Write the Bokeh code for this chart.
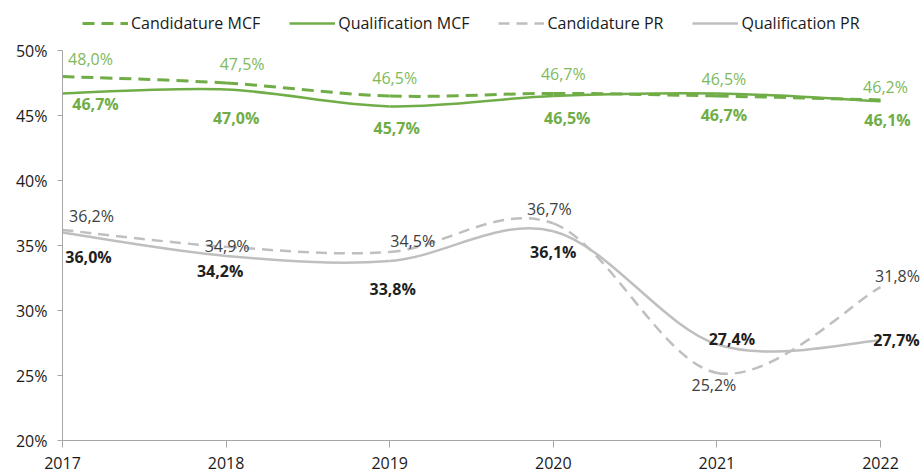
import numpy as np
from bokeh.plotting import figure
from bokeh.models import (ColumnDataSource, Legend, LegendItem, FixedTicker,
                          PrintfTickFormatter, Range1d)
from bokeh.core.properties import value
from bokeh.embed import file_html
from bokeh.resources import INLINE

# ---------------- data ----------------
years = [2017, 2018, 2019, 2020, 2021, 2022]
cand_mcf = [48.0, 47.5, 46.5, 46.7, 46.5, 46.2]
qual_mcf = [46.7, 47.0, 45.7, 46.5, 46.7, 46.1]
cand_pr = [36.2, 34.9, 34.5, 36.7, 25.2, 31.8]
qual_pr = [36.0, 34.2, 33.8, 36.1, 27.4, 27.7]
y_ticks = [20, 25, 30, 35, 40, 45, 50]
names = ["Candidature MCF", "Qualification MCF", "Candidature PR", "Qualification PR"]

# label placement (screen px offsets from each point)
dx_cand_mcf = [28, 16, 5, 10, 7, 5]
dy_cand_mcf = [-18, -19, -18, -19, -17, -13]
dx_qual_mcf = [33, 10, 7, 14, 7, 7]
dy_qual_mcf = [11, 28, 22, 22, 22, 19]
dx_cand_pr = [29, 1, 23, -4, -3, 17]
dy_cand_pr = [-14, -1, -11, -14, 12, -11]
dx_qual_pr = [26, -6, 3, 0, 15, 16]
dy_qual_pr = [24, 15, 28, 21, -5, 0]

GREEN = "#70AD47"
GREEN_LBL = "#80B95C"
GREY = "#BFBFBF"
FONT = "Open Sans"

W, H = 921, 473
LEFT, BOTTOM = 62, 33          # axis positions in px
AXIS_W, AXIS_H = 818, 390      # px span of 2017..2022 and 20%..50%
frame_w, frame_h = W - LEFT, H - BOTTOM
x_end = years[0] + (years[-1] - years[0]) * frame_w / AXIS_W
y_end = y_ticks[0] + (y_ticks[-1] - y_ticks[0]) * frame_h / AXIS_H


def smooth_segments(xs, ys):
    """Cubic bezier control points (Catmull-Rom style smoothing)."""
    x = np.asarray(xs, float)
    y = np.asarray(ys, float)
    xp = np.concatenate([[x[0]], x, [x[-1]]])
    yp = np.concatenate([[y[0]], y, [y[-1]]])
    n = len(x)
    return dict(
        x0=x[:-1], y0=y[:-1], x1=x[1:], y1=y[1:],
        cx0=x[:-1] + (xp[2:n + 1] - xp[0:n - 1]) / 6.0,
        cy0=y[:-1] + (yp[2:n + 1] - yp[0:n - 1]) / 6.0,
        cx1=x[1:] - (xp[3:n + 2] - xp[1:n]) / 6.0,
        cy1=y[1:] - (yp[3:n + 2] - yp[1:n]) / 6.0,
    )


def fmt(v):
    return f"{v:.1f}".replace(".", ",") + "%"


p = figure(width=W, height=H,
           x_range=Range1d(years[0], x_end), y_range=Range1d(y_ticks[0], y_end),
           output_backend="svg", toolbar_location=None,
           min_border_left=LEFT, min_border_right=0,
           min_border_top=0, min_border_bottom=BOTTOM)
p.background_fill_color = "white"
p.border_fill_color = "white"
p.outline_line_color = None
p.xgrid.visible = False
p.ygrid.visible = False

series = [
    (cand_mcf, GREEN, 3, "12 7", GREEN_LBL, "normal", dx_cand_mcf, dy_cand_mcf),
    (qual_mcf, GREEN, 2.5, "solid", GREEN, "bold", dx_qual_mcf, dy_qual_mcf),
    (cand_pr, GREY, 2.5, "11 7", "#404040", "normal", dx_cand_pr, dy_cand_pr),
    (qual_pr, GREY, 2.5, "solid", "#1f1f1f", "bold", dx_qual_pr, dy_qual_pr),
]

items = []
for name, (vals, col, lw, dash, lcol, lstyle, dxs, dys) in zip(names, series):
    seg = ColumnDataSource(smooth_segments(years, vals))
    r = p.bezier(x0="x0", y0="y0", x1="x1", y1="y1", cx0="cx0", cy0="cy0",
                 cx1="cx1", cy1="cy1", source=seg, line_color=col,
                 line_width=lw, line_dash=dash)
    items.append(LegendItem(label=name, renderers=[r]))
    lab = ColumnDataSource(dict(x=years, y=vals, text=[fmt(v) for v in vals],
                                dx=dxs, dy=dys))
    p.text(x="x", y="y", text="text", x_offset="dx", y_offset="dy",
           source=lab, text_align="center", text_baseline="middle",
           text_font=value(FONT), text_font_size="16px",
           text_font_style=lstyle, text_color=lcol)

legend = Legend(items=items, orientation="horizontal", location=(20, 406),
                glyph_width=46, glyph_height=20, label_height=20,
                label_standoff=3, spacing=29, padding=0, margin=0,
                border_line_color=None, background_fill_alpha=0,
                label_text_font=FONT, label_text_font_size="16px",
                label_text_color="#1a1a1a")
p.add_layout(legend)

AX = "#A6A6A6"
for ax in (p.xaxis, p.yaxis):
    ax.axis_line_color = AX
    ax.major_tick_line_color = AX
    ax.minor_tick_line_color = None
    ax.major_tick_in = 0
    ax.major_label_text_font = FONT
    ax.major_label_text_color = "#1a1a1a"

p.xaxis.ticker = FixedTicker(ticks=years)
p.xaxis.bounds = (years[0], years[-1])
p.xaxis.major_tick_out = 7
p.xaxis.major_label_standoff = 9
p.xaxis.major_label_text_font_size = "16px"

p.yaxis.ticker = FixedTicker(ticks=y_ticks)
p.yaxis.bounds = (y_ticks[0], y_ticks[-1])
p.yaxis.formatter = PrintfTickFormatter(format="%d%%")
p.yaxis.major_tick_out = 5
p.yaxis.major_label_standoff = 10
p.yaxis.major_label_text_font_size = "16px"

open("out.html", "w").write(file_html(p, INLINE))
